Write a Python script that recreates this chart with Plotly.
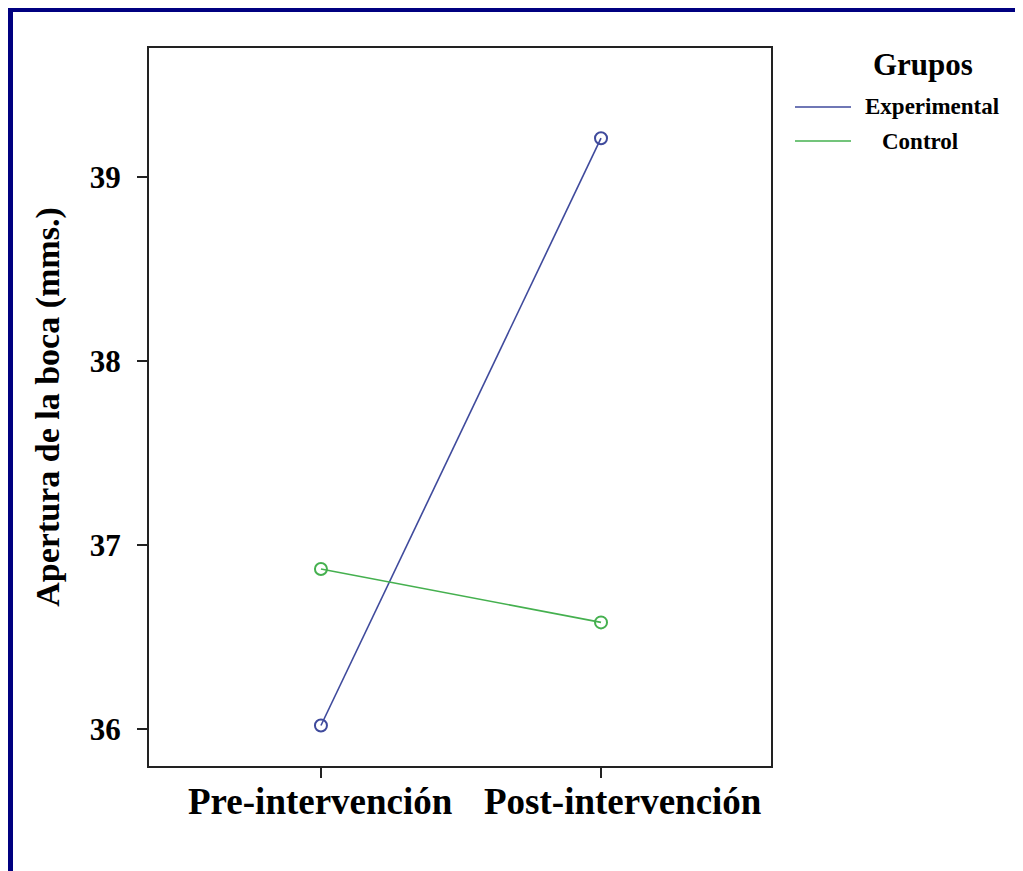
import plotly.graph_objects as go

categories = ["Pre-intervención", "Post-intervención"]
experimental = [36.02, 39.21]
control = [36.87, 36.58]
series_names = ["Experimental", "Control"]
y_ticks = [36, 37, 38, 39]

OFF = 8  # default page margin of the html body
W, H = 1023 - OFF, 871 - OFF
L, R, T, B = 149 - OFF, 771 - OFF, 48 - OFF, 766 - OFF
colors = {"Experimental": "#3f4a9c", "Control": "#45b04f"}
FONT = "Liberation Serif"

fig = go.Figure()
for name, vals in zip(series_names, [experimental, control]):
    fig.add_trace(go.Scatter(
        x=categories, y=vals, mode="lines+markers", name=name,
        line=dict(color=colors[name], width=1.6),
        marker=dict(symbol="circle-open", size=12, color=colors[name], line=dict(width=2)),
        showlegend=False,
    ))


def px_x(p):
    return (p - OFF - L) / (R - L)


def px_y(p):
    return (B - (p - OFF)) / (B - T)


# navy outer frame (top and left edges visible)
fig.add_shape(type="line", xref="paper", yref="paper",
              x0=px_x(10), x1=px_x(10), y0=px_y(6), y1=px_y(880),
              line=dict(color="#000080", width=6))
fig.add_shape(type="line", xref="paper", yref="paper",
              x0=px_x(7), x1=px_x(1030), y0=px_y(9), y1=px_y(9),
              line=dict(color="#000080", width=6))

# category labels (the second one sits slightly right of its tick, as in the reference)
label_shift = [0, 22]
for cat, sh in zip(categories, label_shift):
    fig.add_annotation(xref="x", yref="paper", x=cat, y=px_y(802), xshift=sh,
                       text=f"<b>{cat}</b>", showarrow=False,
                       font=dict(size=37, family=FONT, color="black"),
                       xanchor="center", yanchor="middle")

# legend drawn by hand to match the reference layout
fig.add_annotation(xref="paper", yref="paper", x=px_x(923), y=px_y(65),
                   text="<b>Grupos</b>", showarrow=False,
                   font=dict(size=31, family=FONT, color="black"),
                   xanchor="center", yanchor="middle")
legend_rows = [("Experimental", 107, 863), ("Control", 141, 880)]
for name, yy, tx in legend_rows:
    fig.add_shape(type="line", xref="paper", yref="paper",
                  x0=px_x(795), x1=px_x(851), y0=px_y(yy), y1=px_y(yy),
                  line=dict(color=colors[name], width=1.6))
    fig.add_annotation(xref="paper", yref="paper", x=px_x(tx), y=px_y(yy),
                       text=f"<b>{name}</b>", showarrow=False,
                       font=dict(size=23, family=FONT, color="black"),
                       xanchor="left", yanchor="middle")

fig.update_layout(
    width=W, height=H,
    margin=dict(l=L, r=W - R, t=T, b=H - B),
    paper_bgcolor="white", plot_bgcolor="white",
    font=dict(family=FONT, color="black"),
    showlegend=False,
    xaxis=dict(
        type="category", range=[-0.614, 1.607],
        showline=True, linecolor="#222", linewidth=2, mirror=True,
        ticks="outside", ticklen=10, tickcolor="#222", tickwidth=2,
        showticklabels=False,
        showgrid=False, zeroline=False,
    ),
    yaxis=dict(
        range=[35.80, 39.70], tickvals=y_ticks,
        showline=True, linecolor="#222", linewidth=2, mirror=True,
        ticks="outside", ticklen=10, tickcolor="#222", tickwidth=2,
        ticklabelstandoff=10,
        tickfont=dict(size=31, family=FONT, weight="bold"),
        title=dict(text="<b>Apertura de la boca (mms.)</b>", font=dict(size=34, family=FONT), standoff=20),
        showgrid=False, zeroline=False,
    ),
)

fig.write_html("out.html")
